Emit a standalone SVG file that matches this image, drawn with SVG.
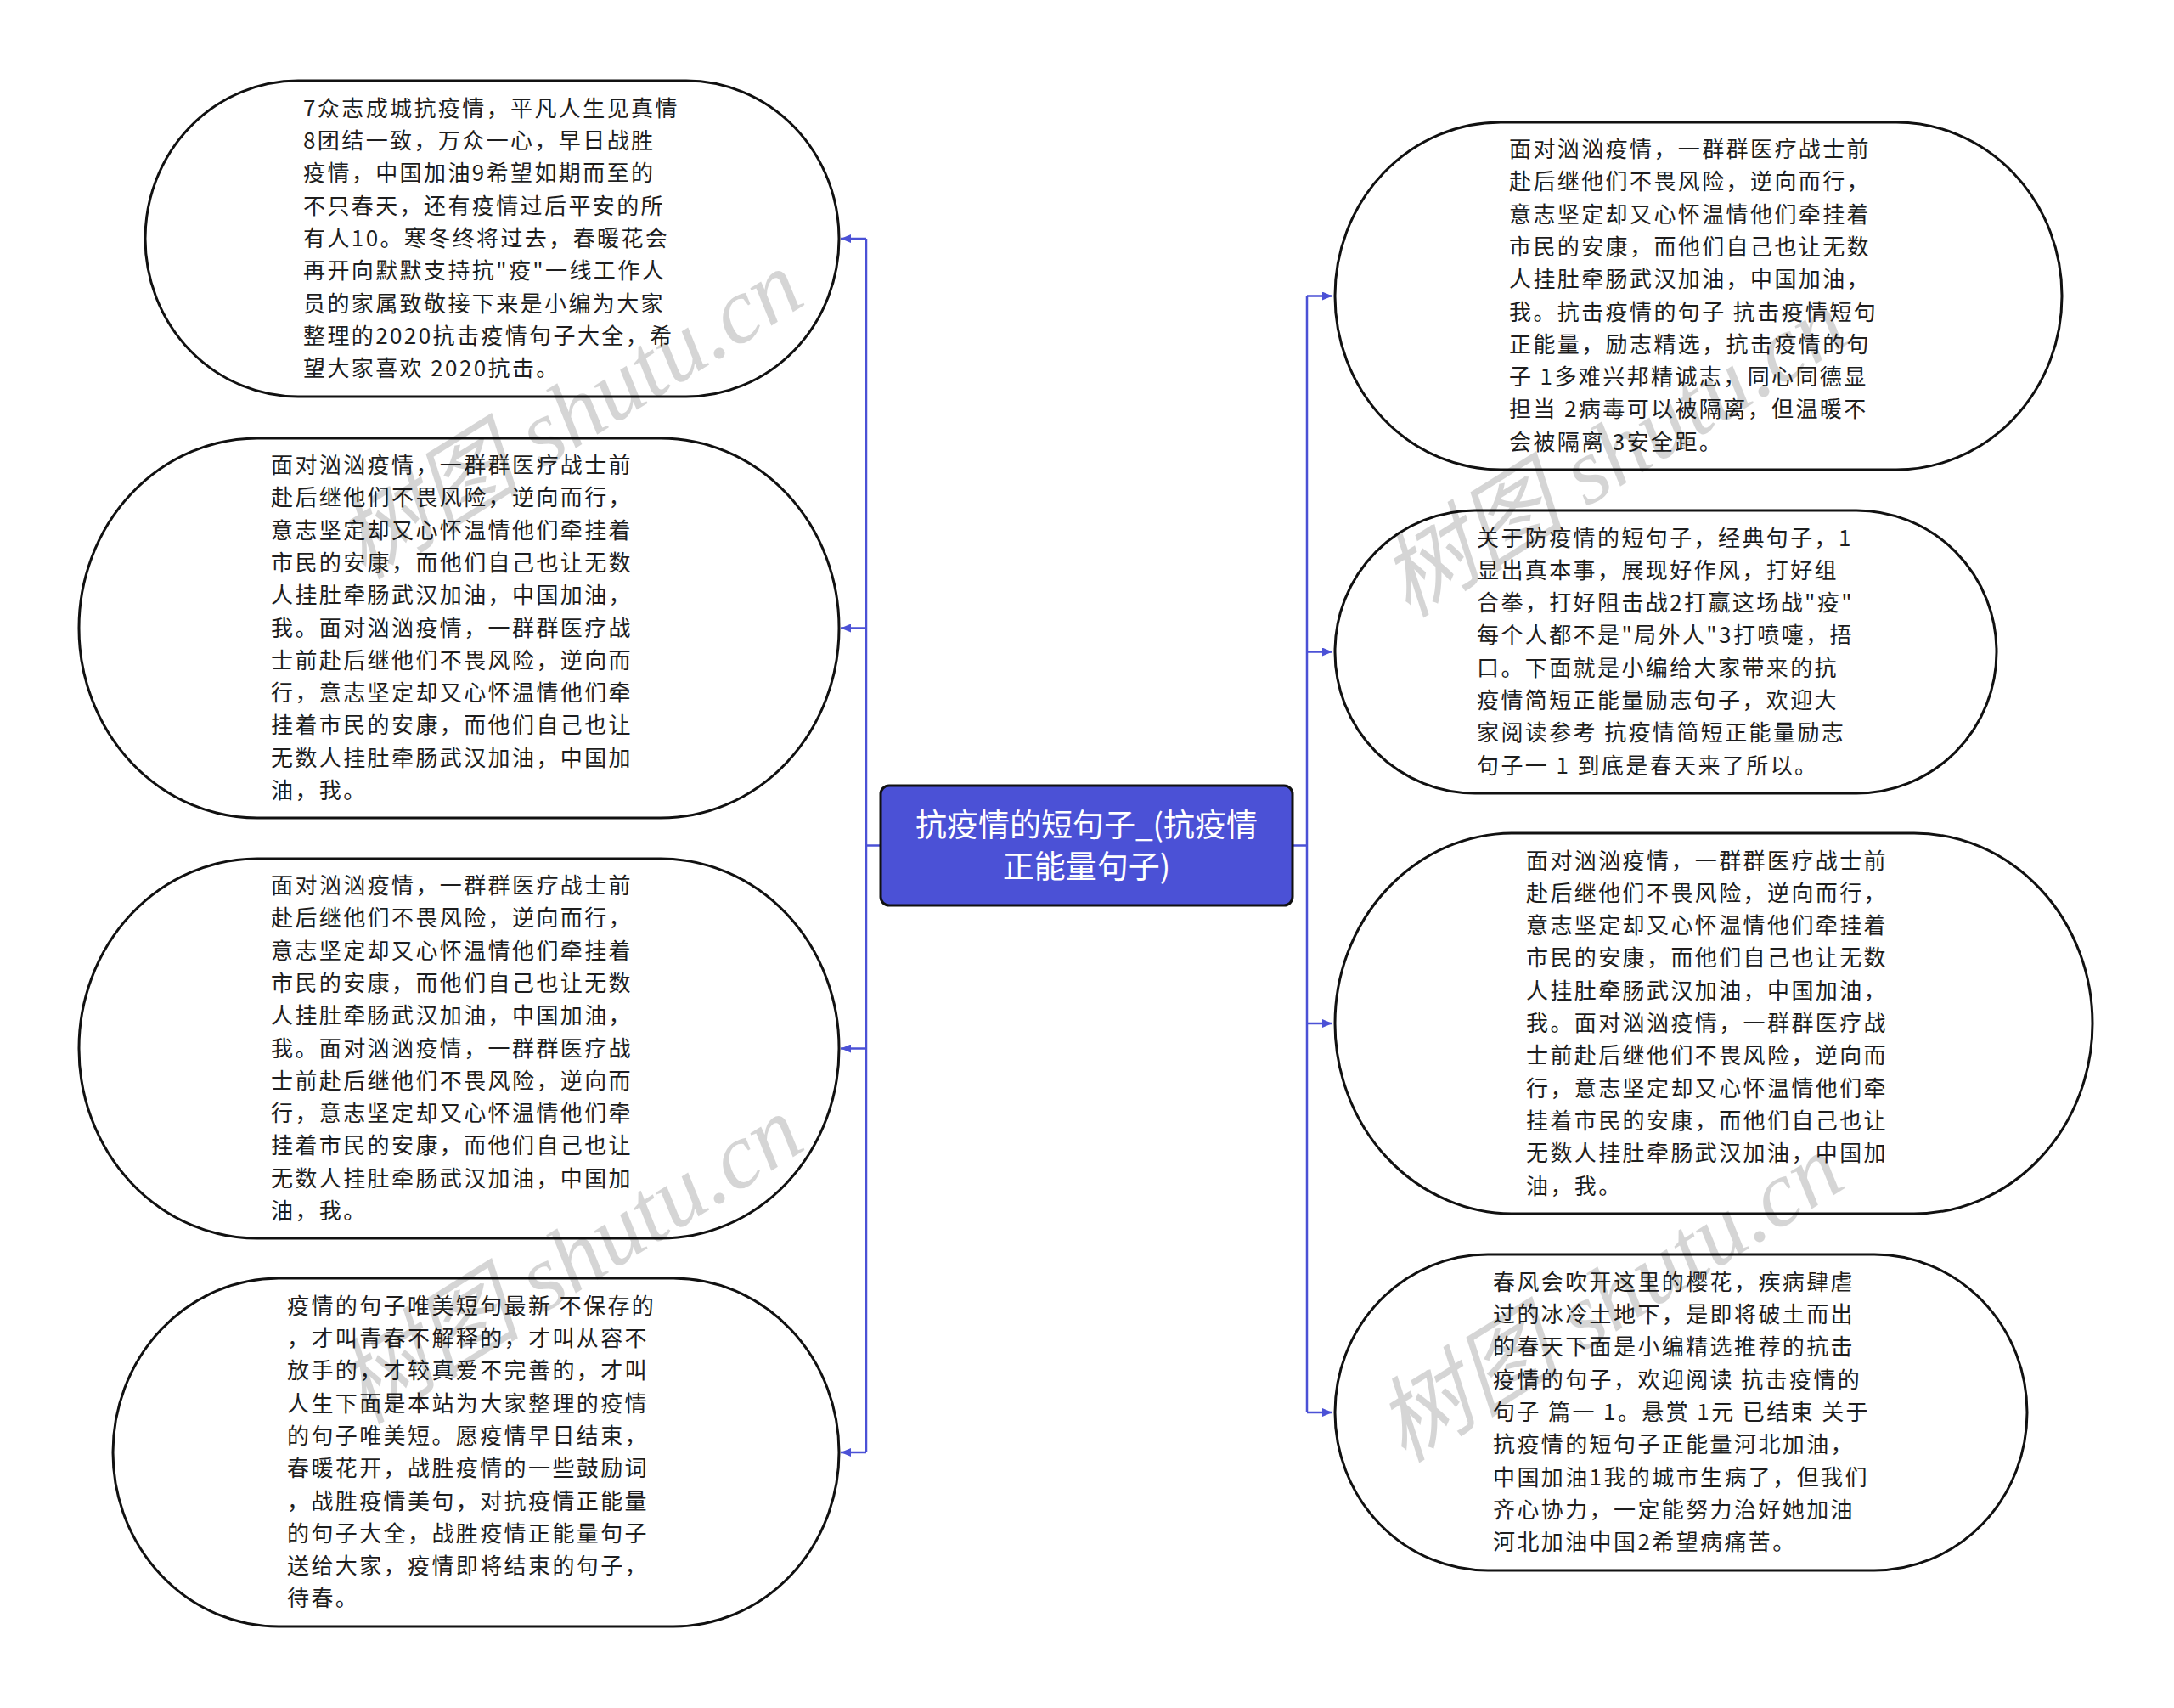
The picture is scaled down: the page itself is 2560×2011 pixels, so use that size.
<svg xmlns="http://www.w3.org/2000/svg" width="2560" height="2011" viewBox="0 0 2560 2011">
<style>
.node{fill:#ffffff;stroke:#111111;stroke-width:3}
.txt{font-family:"Noto Sans CJK SC","Noto Sans",sans-serif;font-size:26px;letter-spacing:2.4px;fill:#1e1e1e}
.ctr{fill:#4b51d6;stroke:#111111;stroke-width:3}
.ctxt{font-family:"Noto Sans CJK SC","Noto Sans",sans-serif;font-size:37px;fill:#ffffff;text-anchor:middle}
.con{fill:none;stroke:#4b51d6;stroke-width:2.5}
.wm{font-family:"Liberation Serif","Noto Sans CJK SC",serif;font-size:110px;font-style:italic;fill:#000000;opacity:0.16;text-anchor:middle}
</style>
<defs>
<marker id="arr" viewBox="0 0 12 10" refX="12" refY="5" markerWidth="12" markerHeight="10" markerUnits="userSpaceOnUse" orient="auto">
<path d="M0,0 L12,5 L0,10 z" fill="#4b51d6"/>
</marker>
</defs>
<rect width="2560" height="2011" fill="#ffffff"/>
<g id="connectors">
<path class="con" d="M1037 995.5 H1020 M1020 281 V1710"/>
<path class="con" d="M1020 281 H990" marker-end="url(#arr)"/>
<path class="con" d="M1020 739.5 H990" marker-end="url(#arr)"/>
<path class="con" d="M1020 1234.5 H990" marker-end="url(#arr)"/>
<path class="con" d="M1020 1710 H990" marker-end="url(#arr)"/>
<path class="con" d="M1522 995.5 H1539 M1539 348.5 V1663"/>
<path class="con" d="M1539 348.5 H1569" marker-end="url(#arr)"/>
<path class="con" d="M1539 767.5 H1569" marker-end="url(#arr)"/>
<path class="con" d="M1539 1205 H1569" marker-end="url(#arr)"/>
<path class="con" d="M1539 1663 H1569" marker-end="url(#arr)"/>
</g>
<g id="center">
<rect class="ctr" x="1037" y="925" width="485" height="141" rx="10" ry="10"/>
<text class="ctxt"><tspan x="1279.5" y="985">抗疫情的短句子_(抗疫情</tspan><tspan x="1279.5" y="1034">正能量句子)</tspan></text>
</g>
<g id="node-l1">
<rect class="node" x="171" y="95" width="817" height="372" rx="180" ry="186"/>
<text class="txt"><tspan x="357" y="136.8">7众志成城抗疫情，平凡人生见真情</tspan><tspan x="357" y="175.1">8团结一致，万众一心，早日战胜</tspan><tspan x="357" y="213.4">疫情，中国加油9希望如期而至的</tspan><tspan x="357" y="251.7">不只春天，还有疫情过后平安的所</tspan><tspan x="357" y="290">有人10。寒冬终将过去，春暖花会</tspan><tspan x="357" y="328.3">再开向默默支持抗"疫"一线工作人</tspan><tspan x="357" y="366.6">员的家属致敬接下来是小编为大家</tspan><tspan x="357" y="404.9">整理的2020抗击疫情句子大全，希</tspan><tspan x="357" y="443.2">望大家喜欢 2020抗击。</tspan></text>
</g>
<g id="node-l2">
<rect class="node" x="93" y="516" width="895" height="447" rx="210" ry="223"/>
<text class="txt"><tspan x="319" y="557">面对汹汹疫情，一群群医疗战士前</tspan><tspan x="319" y="595.3">赴后继他们不畏风险，逆向而行，</tspan><tspan x="319" y="633.6">意志坚定却又心怀温情他们牵挂着</tspan><tspan x="319" y="671.9">市民的安康，而他们自己也让无数</tspan><tspan x="319" y="710.2">人挂肚牵肠武汉加油，中国加油，</tspan><tspan x="319" y="748.5">我。面对汹汹疫情，一群群医疗战</tspan><tspan x="319" y="786.8">士前赴后继他们不畏风险，逆向而</tspan><tspan x="319" y="825.1">行，意志坚定却又心怀温情他们牵</tspan><tspan x="319" y="863.4">挂着市民的安康，而他们自己也让</tspan><tspan x="319" y="901.7">无数人挂肚牵肠武汉加油，中国加</tspan><tspan x="319" y="940">油，我。</tspan></text>
</g>
<g id="node-l3">
<rect class="node" x="93" y="1011" width="895" height="447" rx="210" ry="223"/>
<text class="txt"><tspan x="319" y="1052">面对汹汹疫情，一群群医疗战士前</tspan><tspan x="319" y="1090.3">赴后继他们不畏风险，逆向而行，</tspan><tspan x="319" y="1128.6">意志坚定却又心怀温情他们牵挂着</tspan><tspan x="319" y="1166.9">市民的安康，而他们自己也让无数</tspan><tspan x="319" y="1205.2">人挂肚牵肠武汉加油，中国加油，</tspan><tspan x="319" y="1243.5">我。面对汹汹疫情，一群群医疗战</tspan><tspan x="319" y="1281.8">士前赴后继他们不畏风险，逆向而</tspan><tspan x="319" y="1320.1">行，意志坚定却又心怀温情他们牵</tspan><tspan x="319" y="1358.4">挂着市民的安康，而他们自己也让</tspan><tspan x="319" y="1396.7">无数人挂肚牵肠武汉加油，中国加</tspan><tspan x="319" y="1435">油，我。</tspan></text>
</g>
<g id="node-l4">
<rect class="node" x="133" y="1505" width="855" height="410" rx="195" ry="205"/>
<text class="txt"><tspan x="338" y="1546.7">疫情的句子唯美短句最新 不保存的</tspan><tspan x="338" y="1585">，才叫青春不解释的，才叫从容不</tspan><tspan x="338" y="1623.3">放手的，才较真爱不完善的，才叫</tspan><tspan x="338" y="1661.6">人生下面是本站为大家整理的疫情</tspan><tspan x="338" y="1699.9">的句子唯美短。愿疫情早日结束，</tspan><tspan x="338" y="1738.2">春暖花开，战胜疫情的一些鼓励词</tspan><tspan x="338" y="1776.5">，战胜疫情美句，对抗疫情正能量</tspan><tspan x="338" y="1814.8">的句子大全，战胜疫情正能量句子</tspan><tspan x="338" y="1853.1">送给大家，疫情即将结束的句子，</tspan><tspan x="338" y="1891.4">待春。</tspan></text>
</g>
<g id="node-r1">
<rect class="node" x="1572" y="144" width="856" height="409" rx="195" ry="204"/>
<text class="txt"><tspan x="1777" y="185">面对汹汹疫情，一群群医疗战士前</tspan><tspan x="1777" y="223.3">赴后继他们不畏风险，逆向而行，</tspan><tspan x="1777" y="261.6">意志坚定却又心怀温情他们牵挂着</tspan><tspan x="1777" y="299.9">市民的安康，而他们自己也让无数</tspan><tspan x="1777" y="338.2">人挂肚牵肠武汉加油，中国加油，</tspan><tspan x="1777" y="376.5">我。抗击疫情的句子 抗击疫情短句</tspan><tspan x="1777" y="414.8">正能量，励志精选，抗击疫情的句</tspan><tspan x="1777" y="453.1">子 1多难兴邦精诚志，同心同德显</tspan><tspan x="1777" y="491.4">担当 2病毒可以被隔离，但温暖不</tspan><tspan x="1777" y="529.7">会被隔离 3安全距。</tspan></text>
</g>
<g id="node-r2">
<rect class="node" x="1572" y="601" width="779" height="333" rx="165" ry="166"/>
<text class="txt"><tspan x="1739" y="642.5">关于防疫情的短句子，经典句子，1</tspan><tspan x="1739" y="680.8">显出真本事，展现好作风，打好组</tspan><tspan x="1739" y="719.1">合拳，打好阻击战2打赢这场战"疫"</tspan><tspan x="1739" y="757.4">每个人都不是"局外人"3打喷嚏，捂</tspan><tspan x="1739" y="795.7">口。下面就是小编给大家带来的抗</tspan><tspan x="1739" y="834">疫情简短正能量励志句子，欢迎大</tspan><tspan x="1739" y="872.3">家阅读参考 抗疫情简短正能量励志</tspan><tspan x="1739" y="910.6">句子一 1 到底是春天来了所以。</tspan></text>
</g>
<g id="node-r3">
<rect class="node" x="1572" y="981" width="892" height="448" rx="210" ry="224"/>
<text class="txt"><tspan x="1797" y="1022.5">面对汹汹疫情，一群群医疗战士前</tspan><tspan x="1797" y="1060.8">赴后继他们不畏风险，逆向而行，</tspan><tspan x="1797" y="1099.1">意志坚定却又心怀温情他们牵挂着</tspan><tspan x="1797" y="1137.4">市民的安康，而他们自己也让无数</tspan><tspan x="1797" y="1175.7">人挂肚牵肠武汉加油，中国加油，</tspan><tspan x="1797" y="1214">我。面对汹汹疫情，一群群医疗战</tspan><tspan x="1797" y="1252.3">士前赴后继他们不畏风险，逆向而</tspan><tspan x="1797" y="1290.6">行，意志坚定却又心怀温情他们牵</tspan><tspan x="1797" y="1328.9">挂着市民的安康，而他们自己也让</tspan><tspan x="1797" y="1367.2">无数人挂肚牵肠武汉加油，中国加</tspan><tspan x="1797" y="1405.5">油，我。</tspan></text>
</g>
<g id="node-r4">
<rect class="node" x="1572" y="1477" width="815" height="372" rx="180" ry="186"/>
<text class="txt"><tspan x="1758" y="1518.8">春风会吹开这里的樱花，疾病肆虐</tspan><tspan x="1758" y="1557.1">过的冰冷土地下，是即将破土而出</tspan><tspan x="1758" y="1595.4">的春天下面是小编精选推荐的抗击</tspan><tspan x="1758" y="1633.7">疫情的句子，欢迎阅读 抗击疫情的</tspan><tspan x="1758" y="1672">句子 篇一 1。悬赏 1元 已结束 关于</tspan><tspan x="1758" y="1710.3">抗疫情的短句子正能量河北加油，</tspan><tspan x="1758" y="1748.6">中国加油1我的城市生病了，但我们</tspan><tspan x="1758" y="1786.9">齐心协力，一定能努力治好她加油</tspan><tspan x="1758" y="1825.2">河北加油中国2希望病痛苦。</tspan></text>
</g>
<g id="watermarks">
<text class="wm" transform="translate(690 520) rotate(-32)">树图 shutu.cn</text>
<text class="wm" transform="translate(690 1515) rotate(-32)">树图 shutu.cn</text>
<text class="wm" transform="translate(1920 565) rotate(-32)">树图 shutu.cn</text>
<text class="wm" transform="translate(1915 1560) rotate(-32)">树图 shutu.cn</text>
</g>
</svg>
